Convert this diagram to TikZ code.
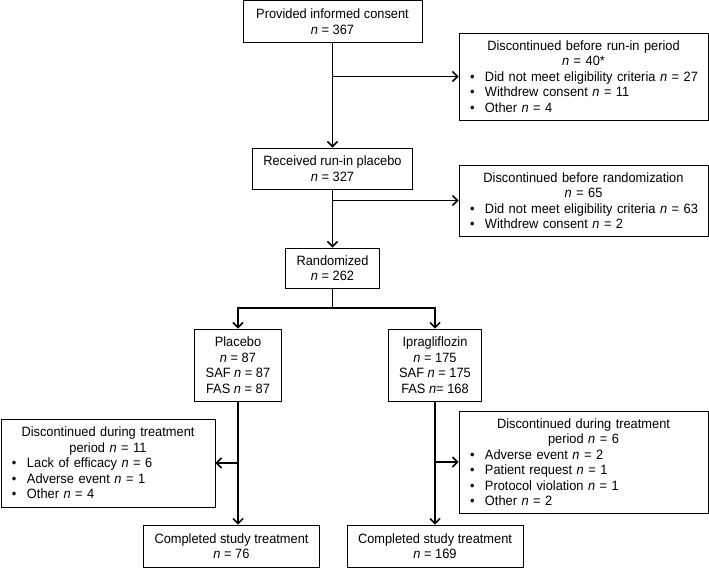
\documentclass[tikz,border=0pt]{standalone}
\usepackage{fontspec}
\setmainfont{Liberation Sans}[FakeStretch=0.95]
\usetikzlibrary{arrows.meta}
\newcommand{\nv}{\textit{n}}
\newcommand{\bitem}[1]{\makebox[\hsize][l]{\makebox[15pt][l]{\textbullet}#1}}

\begin{document}
\begin{tikzpicture}[x=1pt,y=-1pt,>={Straight Barb[length=5pt,width=10pt]},
  box/.style={draw,line width=0.9pt,font=\fontsize{13.5}{15.5}\selectfont,align=center,inner xsep=11pt,inner ysep=0pt},
  flow/.style={->,line width=1.5pt}]
\useasboundingbox (0,0) rectangle (709,568);
% boxes
\node[box,minimum width=179pt,minimum height=42pt] (consent) at (332.5,21.5) {Provided informed consent\\\nv{} = 367};
\node[box,text width=227pt,minimum height=87pt] (disc1) at (583.5,76.5) {Discontinued before run-in period\\\nv{} = 40*\\
  \bitem{Did not meet eligibility criteria \nv{} = 27}\\\bitem{Withdrew consent \nv{} = 11}\\\bitem{Other \nv{} = 4}};
\node[box,minimum width=158pt,minimum height=41pt] (received) at (332.5,168.5) {Received run-in placebo\\\nv{} = 327};
\node[box,text width=227pt,minimum height=71pt] (disc2) at (583.5,200.5) {Discontinued before randomization\\\nv{} = 65\\
  \bitem{Did not meet eligibility criteria \nv{} = 63}\\\bitem{Withdrew consent \nv{} = 2}};
\node[box,minimum width=91pt,minimum height=40pt] (random) at (332.5,268) {Randomized\\\nv{} = 262};
\node[box,minimum width=82pt,minimum height=72pt] (placebo) at (238,365) {Placebo\\\nv{} = 87\\SAF \nv{} = 87\\FAS \nv{} = 87};
\node[box,minimum width=90pt,minimum height=72pt] (ipra) at (435,365) {Ipragliflozin\\\nv{} = 175\\SAF \nv{} = 175\\FAS \nv{}= 168};
\node[box,text width=192pt,minimum height=88pt] (ldisc) at (108,463) {Discontinued during treatment\\period \nv{} = 11\\
  \bitem{Lack of efficacy \nv{} = 6}\\\bitem{Adverse event \nv{} = 1}\\\bitem{Other \nv{} = 4}};
\node[box,text width=227pt,minimum height=102pt] (rdisc) at (583.5,462) {Discontinued during treatment\\period \nv{} = 6\\
  \bitem{Adverse event \nv{} = 2}\\\bitem{Patient request \nv{} = 1}\\\bitem{Protocol violation \nv{} = 1}\\\bitem{Other \nv{} = 2}};
\node[box,minimum width=165pt,minimum height=42pt] (lcomp) at (231.5,546) {Completed study treatment\\\nv{} = 76};
\node[box,minimum width=174pt,minimum height=42pt] (rcomp) at (435,546) {Completed study treatment\\\nv{} = 169};
% arrows
\coordinate (split) at (332.5,308);
\draw[flow] (consent) -- (received);
\draw[flow] (consent.south |- disc1.west) -- (disc1.west);
\draw[flow] (received) -- (random);
\draw[flow] (received.south |- disc2.west) -- (disc2.west);
\draw[line width=1.5pt] (random) -- (split);
\draw[flow] (split) -| (placebo);
\draw[flow] (split) -| (ipra);
\draw[flow] (placebo) -- (placebo.south |- lcomp.north);
\draw[flow] (placebo.south |- ldisc.east) -- (ldisc.east);
\draw[flow] (ipra) -- (rcomp);
\draw[flow] (ipra.south |- rdisc.west) -- (rdisc.west);
\end{tikzpicture}
\end{document}
